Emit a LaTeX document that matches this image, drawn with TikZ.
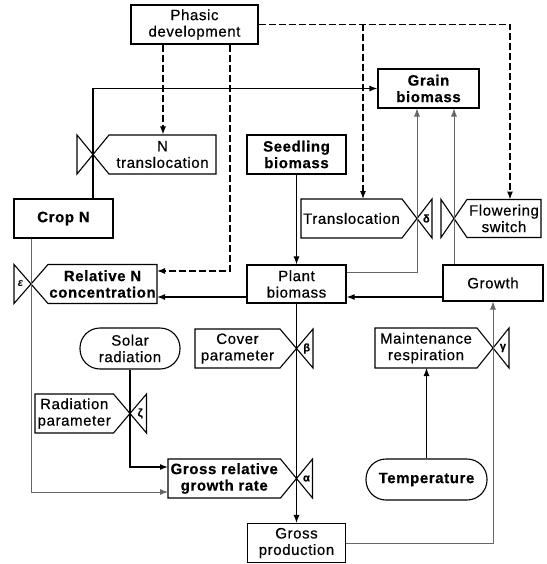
\documentclass[tikz,border=0pt]{standalone}
\usepackage{fontspec}
\setmainfont{Liberation Sans}[LetterSpace=4, UprightFeatures={FakeBold=0.6}, BoldFeatures={FakeBold=0.6}]
\usetikzlibrary{arrows.meta}
\newcommand{\valveR}[8]{% cx, cy, left x, half height, d, name, text, greek
  \coordinate (#6) at (#1,#2);
  \draw[shapeline] (#1-#5,#2-#4) -- (#3,#2-#4) -- (#3,#2+#4) -- (#1-#5,#2+#4)
     -- (#1+#5,#2-#4) -- (#1+#5,#2+#4) -- cycle;
  \node[lbl] (#6-t) at ({(#3+#1-#5)/2},#2) {#7};
  \node[greek] (#6-g) at ({#1+0.62*#5},#2) {#8};
}
\newcommand{\valveL}[8]{% cx, cy, right x, half height, d, name, text, greek
  \coordinate (#6) at (#1,#2);
  \draw[shapeline] (#1+#5,#2-#4) -- (#3,#2-#4) -- (#3,#2+#4) -- (#1+#5,#2+#4)
     -- (#1-#5,#2-#4) -- (#1-#5,#2+#4) -- cycle;
  \node[lbl] (#6-t) at ({(#3+#1+#5)/2},#2) {#7};
  \node[greek] (#6-g) at ({#1-0.62*#5},#2) {#8};
}
\begin{document}
\begin{tikzpicture}[x=1pt,y=-1pt,
  shapeline/.style={line width=1.1pt, line join=miter},
  txt/.style={font=\fontsize{15}{16.5}\selectfont, align=center, inner sep=0pt},
  lbl/.style={txt},
  greek/.style={font=\fontsize{11}{11}\selectfont\bfseries, inner sep=0pt},
  box/.style={txt, draw, line width=1.1pt, inner sep=0pt},
  boldbox/.style={box, font=\fontsize{15}{16.5}\selectfont\bfseries},
  stadium/.style={box, rounded corners=20pt},
  tip/.style={-{Latex[length=8pt,width=6pt]}},
  flow/.style={line width=1.4pt},
  conn/.style={line width=1pt},
  thin/.style={line width=0.8pt, black!60},
  dashconn/.style={line width=1.2pt, dash pattern=on 7pt off 3pt}
]
\useasboundingbox (0,0) rectangle (546,564);

% boxes
\node[box, minimum width=127pt, minimum height=39pt] (phasic) at (194.5,24.5) {Phasic\\development};
\node[boldbox, minimum width=101pt, minimum height=39pt] (grain) at (428.5,88.5) {Grain\\biomass};
\node[boldbox, minimum width=99pt, minimum height=39pt] (seed) at (296.5,154.5) {Seedling\\biomass};
\node[boldbox, minimum width=99pt, minimum height=39pt] (cropn) at (63.5,218.5) {Crop N};
\node[box, minimum width=99pt, minimum height=38pt] (plant) at (296.5,284) {Plant\\biomass};
\node[box, minimum width=100pt, minimum height=36pt] (growth) at (493,283) {Growth};
\node[box, minimum width=98pt, minimum height=39pt] (gprod) at (296.5,543) {Gross\\production};
\node[stadium, minimum width=100pt, minimum height=41pt] (solar) at (130,348.5) {Solar\\radiation};
\node[stadium, minimum width=121pt, minimum height=41pt, font=\fontsize{15}{16.5}\selectfont\bfseries] (temp) at (426.5,479.5) {Temperature};

% valves with labels
\valveL{93}{154.5}{216}{19.5}{16}{ntrans}{N\\translocation}{}
\valveL{31}{284}{157}{19.5}{17}{reln}{\bfseries Relative N\\\bfseries concentration}{\itshape ε}
\valveR{417}{218.5}{301}{19.5}{15}{transl}{Translocation}{δ}
\valveL{454}{218.5}{541}{19}{13}{flower}{Flowering\\switch}{}
\valveR{296.5}{348.5}{195}{19.5}{16.5}{cover}{Cover\\parameter}{β}
\valveR{493}{348}{375}{20}{16}{maint}{Maintenance\\respiration}{γ}
\valveR{130}{413.5}{35}{19.5}{16.5}{radp}{Radiation\\parameter}{ζ}
\valveR{296.5}{478.5}{168}{19.5}{16}{grgr}{\bfseries Gross relative\\\bfseries growth rate}{α}

% free-end coordinates
\coordinate (ntransTop) at (163,134.5);
\coordinate (relnBend) at (230,271);
\coordinate (relnDash) at (157,271);
\coordinate (relnSolid) at (157,297);
\coordinate (translTop) at (363,199);
\coordinate (flowTop) at (510,199.5);
\coordinate (pgY) at (0,272);
\coordinate (grgrIn1) at (168,467);
\coordinate (grgrIn2) at (168,492);
\coordinate (maintB) at (426.5,368);

% dashed control lines from phasic development
\draw[dashconn, tip] (phasic.south -| ntransTop) -- (ntransTop);
\draw[dashconn, tip] (phasic.south -| relnBend) -- (relnBend) -- (relnDash);
\draw[dashconn, tip] (phasic.east) -- (flowTop |- phasic.east) -- (flowTop);
\draw[dashconn, tip] (translTop |- phasic.east) -- (translTop);

% flows
\draw[flow, tip] (cropn.north -| ntrans) -- (ntrans |- grain.west) -- (grain.west);
\draw[thin, tip] (cropn.south -| reln) -- (reln |- grgrIn2) -- (grgrIn2);
\draw[conn, tip] (seed.south) -- (plant.north);
\draw[flow, tip] (plant.west |- relnSolid) -- (relnSolid);
\draw[flow, tip] (growth.west |- relnSolid) -- (plant.east |- relnSolid);
\draw[thin, tip] (plant.east |- pgY) -- (transl |- pgY) -- (transl |- grain.south);
\draw[thin, tip] (flower |- growth.north) -- (flower |- grain.south);
\draw[conn, tip] (plant.south) -- (gprod.north);
\draw[thin, tip] (gprod.east) -- (growth |- gprod.east) -- (growth.south);
\draw[conn, tip] (temp.north) -- (maintB);
\draw[flow, tip] (solar.south) -- (solar |- grgrIn1) -- (grgrIn1);
\end{tikzpicture}
\end{document}
